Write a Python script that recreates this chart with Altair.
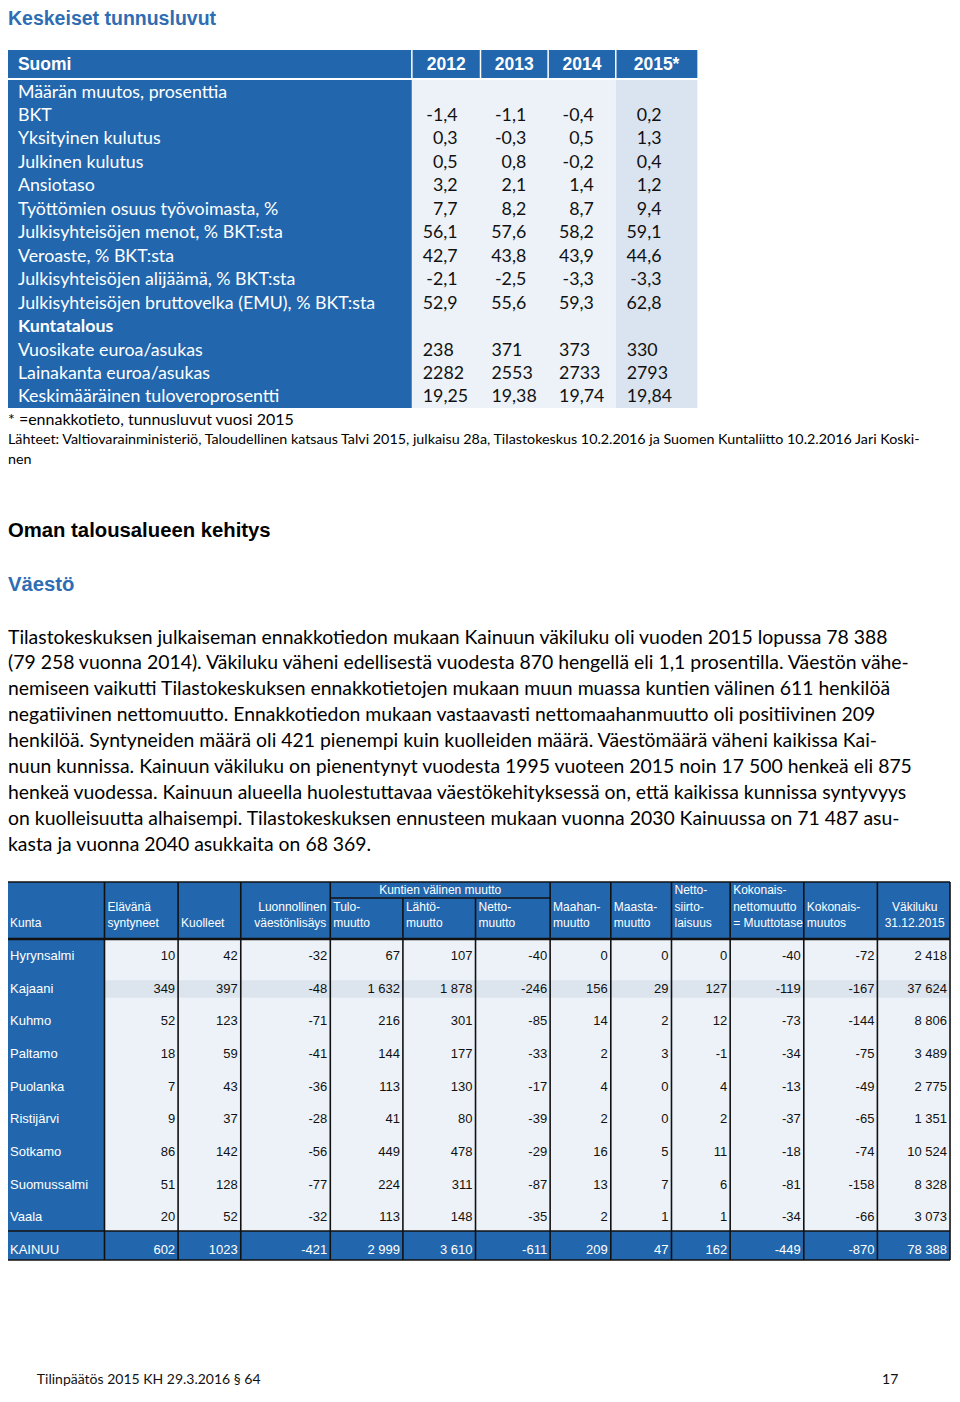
import altair as alt
import pandas as pd

# ------------------------------------------------------------------ data
page_title = "Keskeiset tunnusluvut"
t1_header = ["Suomi", "2012", "2013", "2014", "2015*"]
t1_labels = [
    "Määrän muutos, prosenttia", "BKT", "Yksityinen kulutus", "Julkinen kulutus",
    "Ansiotaso", "Työttömien osuus työvoimasta, %", "Julkisyhteisöjen menot, % BKT:sta",
    "Veroaste, % BKT:sta", "Julkisyhteisöjen alijäämä, % BKT:sta",
    "Julkisyhteisöjen bruttovelka (EMU), % BKT:sta", "Kuntatalous",
    "Vuosikate euroa/asukas", "Lainakanta euroa/asukas", "Keskimääräinen tuloveroprosentti",
]
t1_bold = [False] * 10 + [True] + [False] * 3
t1_decimals = [None, 1, 1, 1, 1, 1, 1, 1, 1, 1, None, 0, 0, 2]
v2012 = [None, -1.4, 0.3, 0.5, 3.2, 7.7, 56.1, 42.7, -2.1, 52.9, None, 238, 2282, 19.25]
v2013 = [None, -1.1, -0.3, 0.8, 2.1, 8.2, 57.6, 43.8, -2.5, 55.6, None, 371, 2553, 19.38]
v2014 = [None, -0.4, 0.5, -0.2, 1.4, 8.7, 58.2, 43.9, -3.3, 59.3, None, 373, 2733, 19.74]
v2015 = [None, 0.2, 1.3, 0.4, 1.2, 9.4, 59.1, 44.6, -3.3, 62.8, None, 330, 2793, 19.84]
t1_note = "* =ennakkotieto, tunnusluvut vuosi 2015"
t1_source = [
    "Lähteet: Valtiovarainministeriö, Taloudellinen katsaus Talvi 2015, julkaisu 28a, Tilastokeskus 10.2.2016 ja Suomen Kuntaliitto 10.2.2016 Jari Koski-",
    "nen",
]
heading2 = "Oman talousalueen kehitys"
heading3 = "Väestö"
paragraph = [
    "Tilastokeskuksen julkaiseman ennakkotiedon mukaan Kainuun väkiluku oli vuoden 2015 lopussa 78 388",
    "(79 258 vuonna 2014). Väkiluku väheni edellisestä vuodesta 870 hengellä eli 1,1 prosentilla. Väestön vähe-",
    "nemiseen vaikutti Tilastokeskuksen ennakkotietojen mukaan muun muassa kuntien välinen 611 henkilöä",
    "negatiivinen nettomuutto. Ennakkotiedon mukaan vastaavasti nettomaahanmuutto oli positiivinen 209",
    "henkilöä. Syntyneiden määrä oli 421 pienempi kuin kuolleiden määrä.  Väestömäärä väheni kaikissa Kai-",
    "nuun kunnissa. Kainuun väkiluku on pienentynyt vuodesta 1995 vuoteen 2015 noin 17 500 henkeä eli 875",
    "henkeä vuodessa. Kainuun alueella huolestuttavaa väestökehityksessä on, että kaikissa kunnissa syntyvyys",
    "on kuolleisuutta alhaisempi. Tilastokeskuksen ennusteen mukaan vuonna 2030 Kainuussa on 71 487 asu-",
    "kasta ja vuonna 2040 asukkaita on 68 369.",
]
t2_heads = [
    ["Kunta"], ["Elävänä", "syntyneet"], ["Kuolleet"], ["Luonnollinen", "väestönlisäys"],
    ["Tulo-", "muutto"], ["Lähtö-", "muutto"], ["Netto-", "muutto"], ["Maahan-", "muutto"],
    ["Maasta-", "muutto"], ["Netto-", "siirto-", "laisuus"],
    ["Kokonais-", "nettomuutto", "= Muuttotase"], ["Kokonais-", "muutos"], ["Väkiluku", "31.12.2015"],
]
t2_group = "Kuntien välinen muutto"
kunnat = ["Hyrynsalmi", "Kajaani", "Kuhmo", "Paltamo", "Puolanka", "Ristijärvi",
          "Sotkamo", "Suomussalmi", "Vaala", "KAINUU"]
syntyneet = [10, 349, 52, 18, 7, 9, 86, 51, 20, 602]
kuolleet = [42, 397, 123, 59, 43, 37, 142, 128, 52, 1023]
luonnollinen = [-32, -48, -71, -41, -36, -28, -56, -77, -32, -421]
tulomuutto = [67, 1632, 216, 144, 113, 41, 449, 224, 113, 2999]
lahtomuutto = [107, 1878, 301, 177, 130, 80, 478, 311, 148, 3610]
nettomuutto = [-40, -246, -85, -33, -17, -39, -29, -87, -35, -611]
maahanmuutto = [0, 156, 14, 2, 4, 2, 16, 13, 2, 209]
maastamuutto = [0, 29, 2, 3, 0, 0, 5, 7, 1, 47]
siirtolaisuus = [0, 127, 12, -1, 4, 2, 11, 6, 1, 162]
muuttotase = [-40, -119, -73, -34, -13, -37, -18, -81, -34, -449]
kokonaismuutos = [-72, -167, -144, -75, -49, -65, -74, -158, -66, -870]
vakiluku = [2418, 37624, 8806, 3489, 2775, 1351, 10524, 8328, 3073, 78388]
footer_left = "Tilinpäätös 2015  KH 29.3.2016 § 64"
footer_right = "17"

# ------------------------------------------------------------------ layout
# chart coordinates are page pixels; the view covers page x 8..952, y 8..1386
X0, X1, Y0, Y1 = 7, 956, 8, 1386
W, H = 944, 1378
xs = alt.Scale(domain=[X0, X1], nice=False, zero=False)
ys = alt.Scale(domain=[Y0, Y1], nice=False, zero=False, reverse=True)

BLUE = "#2267AE"
HEAD_BLUE = "#2E6DB4"
LIGHT = "#EDF2F8"
LIGHT2 = "#DAE4F0"
BODY_FONT = "Lato"
SANS = "Liberation Sans"
NUDGE = 1.5  # Lato sits a little high with baseline "middle"


def X(f="x"):
    return alt.X(f"{f}:Q", scale=xs, axis=None)


def Y(f="y"):
    return alt.Y(f"{f}:Q", scale=ys, axis=None)


def rects(rows, color):
    df = pd.DataFrame(rows, columns=["x", "x2", "y", "y2"])
    return alt.Chart(df).mark_rect(color=color, strokeWidth=0).encode(
        x=X(), x2="x2:Q", y=Y(), y2="y2:Q")


def rules(rows, color, width):
    df = pd.DataFrame(rows, columns=["x", "x2", "y", "y2"])
    return alt.Chart(df).mark_rule(color=color, strokeWidth=width).encode(
        x=X(), x2="x2:Q", y=Y(), y2="y2:Q")


def texts(rows, size, color="black", font=BODY_FONT, weight="normal", align="left"):
    df = pd.DataFrame(rows, columns=["x", "y", "t"])
    if font == BODY_FONT:
        df["y"] = df["y"] + NUDGE
    return alt.Chart(df).mark_text(
        fontSize=size, color=color, font=font, fontWeight=weight,
        align=align, baseline="middle").encode(x=X(), y=Y(), text="t:N")


layers = []

# title
layers.append(texts([(7, 19, page_title)], 19.5, HEAD_BLUE, SANS, "bold"))

# ---------------- table 1
t1_edges = [7, 413, 482, 550, 618, 700]
T1_HEAD_TOP, T1_HEAD_BOT, T1_BODY_TOP, T1_BODY_BOT = 50, 78, 80, 408
T1_ROW0, T1_STEP = 91, 23.46

layers.append(rects([(t1_edges[0], t1_edges[-1], T1_HEAD_TOP, T1_HEAD_BOT),
                     (t1_edges[0], t1_edges[1], T1_BODY_TOP, T1_BODY_BOT)], BLUE))
layers.append(rects([(t1_edges[1], t1_edges[4], T1_BODY_TOP, T1_BODY_BOT)], LIGHT))
layers.append(rects([(t1_edges[4], t1_edges[5], T1_BODY_TOP, T1_BODY_BOT)], LIGHT2))
layers.append(rules([(e, e, T1_HEAD_TOP, T1_HEAD_BOT) for e in t1_edges[1:5]], "white", 1.5))

hdr = [(t1_edges[0] + 10, (T1_HEAD_TOP + T1_HEAD_BOT) / 2 + 1, t1_header[0])]
hdr += [((t1_edges[i + 1] + t1_edges[i + 2]) / 2, (T1_HEAD_TOP + T1_HEAD_BOT) / 2 + 1, t1_header[i + 1])
        for i in range(4)]
layers.append(texts(hdr[:1], 17.5, "white", SANS, "bold"))
layers.append(texts(hdr[1:], 17.5, "white", SANS, "bold", "center"))

lab_n = [(17, T1_ROW0 + i * T1_STEP, l) for i, l in enumerate(t1_labels) if not t1_bold[i]]
lab_b = [(17, T1_ROW0 + i * T1_STEP, l) for i, l in enumerate(t1_labels) if t1_bold[i]]
layers.append(texts(lab_n, 17.8, "white"))
layers.append(texts(lab_b, 17.8, "white", weight="bold"))


def fmt1(v, d):
    return f"{v:.{d}f}".replace(".", ",")


val_r, val_l = [], []
for c, series in enumerate([v2012, v2013, v2014, v2015]):
    left = t1_edges[c + 1]
    for i, v in enumerate(series):
        if v is None:
            continue
        y = T1_ROW0 + i * T1_STEP
        if i > 10:
            val_l.append((left + 11, y, fmt1(v, t1_decimals[i])))
        else:
            val_r.append((left + 46, y, fmt1(v, t1_decimals[i])))
layers.append(texts(val_r, 17.8, "#111111", align="right"))
layers.append(texts(val_l, 17.8, "#111111"))

layers.append(texts([(7, 418, t1_note)], 16))
layers.append(texts([(7, 438 + 20 * i, s) for i, s in enumerate(t1_source)], 14.3))

# ---------------- headings and paragraph
layers.append(texts([(7, 531, heading2)], 20.3, "black", SANS, "bold"))
layers.append(texts([(7, 585, heading3)], 20.3, HEAD_BLUE, SANS, "bold"))
PARA_Y0, PARA_STEP = 636, 25.9
layers.append(texts([(7, PARA_Y0 + i * PARA_STEP, s) for i, s in enumerate(paragraph)], 19.4))

# ---------------- table 2
e2 = [6, 104, 178, 241, 331, 404, 477, 552, 613, 674, 733, 807, 881, 954]
GROUP_INNER = {5, 6}
T2_TOP, T2_SUB, T2_HEAD_BOT, T2_SUM_TOP, T2_BOT = 882, 898, 939, 1231, 1260
T2_ROW0, T2_STEP = 956, 32.67
KAJ = kunnat.index("Kajaani")

layers.append(rects([(e2[0], e2[-1], T2_TOP, T2_HEAD_BOT),
                     (e2[0], e2[1], T2_HEAD_BOT, T2_BOT),
                     (e2[0], e2[-1], T2_SUM_TOP, T2_BOT)], BLUE))
layers.append(rects([(e2[1], e2[-1], T2_HEAD_BOT, T2_SUM_TOP)], LIGHT))
kaj_y = T2_ROW0 + KAJ * T2_STEP
layers.append(rects([(e2[1], e2[-1], kaj_y - 8.5, kaj_y + 9)], "#DCE4EE"))

grid = []
for i, e in enumerate(e2):
    top = T2_SUB if i in GROUP_INNER else T2_TOP
    grid.append((e, e, top, T2_BOT))
grid += [(e2[0], e2[-1], T2_TOP, T2_TOP), (e2[4], e2[7], T2_SUB, T2_SUB),
         (e2[0], e2[-1], T2_SUM_TOP, T2_SUM_TOP), (e2[0], e2[-1], T2_BOT, T2_BOT)]
layers.append(rules(grid, "#111111", 1.6))
layers.append(rules([(e2[0], e2[-1], T2_HEAD_BOT, T2_HEAD_BOT)], "#111111", 2.5))

head_l, head_r, head_c = [], [], []
for c, lines in enumerate(t2_heads):
    n = len(lines)
    for k, s in enumerate(lines):
        y = 923 - (n - 1 - k) * 16.5
        if c == 3:
            head_r.append((e2[c + 1] - 4, y, s))
        elif c == 12:
            head_c.append(((e2[c] + e2[c + 1]) / 2 + 1, y, s))
        else:
            head_l.append((e2[c] + 3, y, s))
head_c.append(((e2[4] + e2[7]) / 2, 890, t2_group))
layers.append(texts(head_l, 12, "white", SANS))
layers.append(texts(head_r, 12, "white", SANS, align="right"))
layers.append(texts(head_c, 12, "white", SANS, align="center"))


def fmt2(v, group):
    s = f"{abs(v):,}".replace(",", " ") if group else str(abs(v))
    return ("-" if v < 0 else "") + s


cols = [(syntyneet, False), (kuolleet, False), (luonnollinen, False), (tulomuutto, True),
        (lahtomuutto, True), (nettomuutto, False), (maahanmuutto, False), (maastamuutto, False),
        (siirtolaisuus, False), (muuttotase, False), (kokonaismuutos, False), (vakiluku, True)]
body_vals, sum_vals = [], []
for c, (series, grp) in enumerate(cols):
    for i, v in enumerate(series):
        row = (e2[c + 2] - 3, T2_ROW0 + i * T2_STEP, fmt2(v, grp))
        (sum_vals if i == len(series) - 1 else body_vals).append(row)
names_rows = [(9, T2_ROW0 + i * T2_STEP, k) for i, k in enumerate(kunnat)]
layers.append(texts(names_rows, 13, "white", SANS))
layers.append(texts(body_vals, 13, "#111111", SANS, align="right"))
layers.append(texts(sum_vals, 13, "white", SANS, align="right"))

# ---------------- footer
layers.append(texts([(36, 1378, footer_left)], 14, "#111111"))
layers.append(texts([(902, 1378, footer_right)], 14, "#111111", align="right"))

chart = alt.layer(*layers).properties(
    width=W, height=H, autosize="none", padding=0
).configure_view(stroke=None)

chart.save("out.html", embed_options={"renderer": "svg", "actions": False})
